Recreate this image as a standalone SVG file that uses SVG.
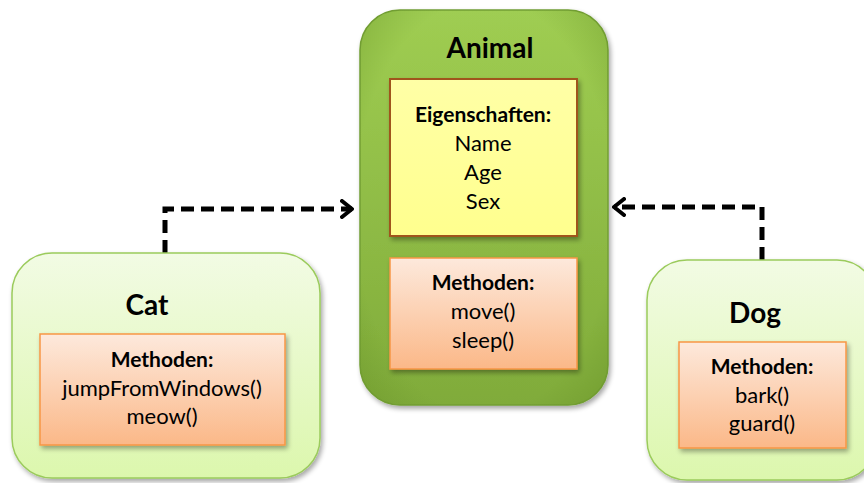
<svg xmlns="http://www.w3.org/2000/svg" width="864" height="483" viewBox="0 0 864 483">
<defs>
<linearGradient id="gAnimal" x1="0" y1="0" x2="0" y2="1">
<stop offset="0" stop-color="#9fcd52"/>
<stop offset="1" stop-color="#80ab3a"/>
</linearGradient>
<radialGradient id="gEdge" cx="0.5" cy="0.5" r="0.7">
<stop offset="0.75" stop-color="#5f8a20" stop-opacity="0"/>
<stop offset="1" stop-color="#5f8a20" stop-opacity="0.35"/>
</radialGradient>
<linearGradient id="gLight" x1="0" y1="0" x2="0" y2="1">
<stop offset="0" stop-color="#f2fbe4"/>
<stop offset="1" stop-color="#dcf7ad"/>
</linearGradient>
<linearGradient id="gOrange" x1="0" y1="0" x2="0" y2="1">
<stop offset="0" stop-color="#fde9dc"/>
<stop offset="1" stop-color="#fbb888"/>
</linearGradient>
<linearGradient id="gYellow" x1="0" y1="0" x2="0" y2="1">
<stop offset="0" stop-color="#ffffa6"/>
<stop offset="1" stop-color="#ffff8e"/>
</linearGradient>
<filter id="sh" x="-10%" y="-10%" width="125%" height="125%">
<feGaussianBlur in="SourceAlpha" stdDeviation="2.5"/>
<feOffset dx="2" dy="3" result="b"/>
<feComponentTransfer><feFuncA type="linear" slope="0.35"/></feComponentTransfer>
<feMerge><feMergeNode/><feMergeNode in="SourceGraphic"/></feMerge>
</filter>
<marker id="arr" viewBox="0 0 14 20" refX="12" refY="10" markerWidth="14" markerHeight="20" markerUnits="userSpaceOnUse" orient="auto">
<path d="M2,2 L12,10 L2,18" fill="none" stroke="#000" stroke-width="4" stroke-linecap="round" stroke-linejoin="round"/>
</marker>
<style>
text{font-family:Lato,"Liberation Sans",sans-serif;fill:#000;text-anchor:middle}
.t{font-size:28px;font-weight:bold}
.h{font-size:21px;font-weight:bold}
.b{font-size:22px}
.meth{fill:url(#gOrange);stroke:#f79646;stroke-width:1.5}
.light{fill:url(#gLight);stroke:#9bcb5c;stroke-width:1.5}
.conn{fill:none;stroke:#000;stroke-width:5;stroke-dasharray:13 7}
</style>
</defs>

<g id="connectors">
<path class="conn" d="M165,253 V209 H352" marker-end="url(#arr)"/>
<path class="conn" d="M762,260 V207 H614" marker-end="url(#arr)"/>
</g>

<g id="animal">
<rect x="360" y="10" width="248" height="395" rx="40" fill="url(#gAnimal)" stroke="#739f34" stroke-width="1.5" filter="url(#sh)"/>
<rect x="360" y="10" width="248" height="395" rx="40" fill="url(#gEdge)"/>
<text class="t" x="490" y="58">Animal</text>
<rect x="390" y="79" width="187" height="157" fill="url(#gYellow)" stroke="#a0551c" stroke-width="2" filter="url(#sh)"/>
<text class="h" x="483" y="122">Eigenschaften:</text>
<text class="b" x="483" y="151">Name</text>
<text class="b" x="483" y="180">Age</text>
<text class="b" x="483" y="209">Sex</text>
<rect class="meth" x="390" y="258" width="187" height="111" filter="url(#sh)"/>
<text class="h" x="483" y="290">Methoden:</text>
<text class="b" x="483" y="319">move()</text>
<text class="b" x="483" y="348">sleep()</text>
</g>

<g id="cat">
<rect class="light" x="12" y="253" width="308" height="225" rx="40" filter="url(#sh)"/>
<text class="t" x="147" y="315">Cat</text>
<rect class="meth" x="40" y="334" width="245" height="111" filter="url(#sh)"/>
<text class="h" x="162" y="367">Methoden:</text>
<text class="b" x="162" y="396">jumpFromWindows()</text>
<text class="b" x="162" y="424">meow()</text>
</g>

<g id="dog">
<rect class="light" x="647" y="260" width="230" height="220" rx="40" filter="url(#sh)"/>
<text class="t" x="755" y="323">Dog</text>
<rect class="meth" x="679" y="342" width="167" height="106" filter="url(#sh)"/>
<text class="h" x="762" y="374">Methoden:</text>
<text class="b" x="762" y="403">bark()</text>
<text class="b" x="762" y="431">guard()</text>
</g>
</svg>
